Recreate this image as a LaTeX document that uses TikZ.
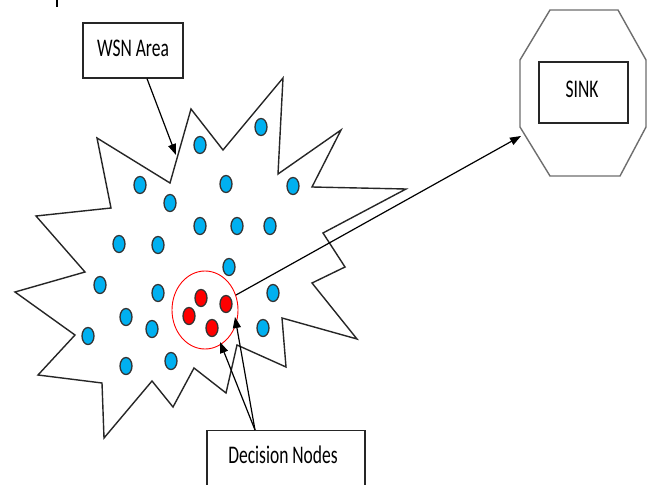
\documentclass[tikz,border=0pt]{standalone}
\usepackage{fontspec}
\setmainfont{Carlito}
\usetikzlibrary{arrows.meta,shapes.geometric}
\definecolor{wsnblue}{RGB}{0,176,240}
\definecolor{edgegray}{RGB}{110,110,110}
\tikzset{
  lbl/.style={font=\fontsize{17.5}{20}\selectfont, inner sep=0pt},
  boxline/.style={draw=black!85, line width=1.3pt},
  starline/.style={draw=black!85, line width=1.4pt, line join=miter},
  bdot/.style={ellipse, draw=black!80, line width=1.3pt, fill=wsnblue, minimum width=12pt, minimum height=17pt, inner sep=0pt},
  rdot/.style={ellipse, draw=black!80, line width=1.3pt, fill=red, minimum width=12pt, minimum height=17pt, inner sep=0pt},
  arr/.style={draw=black, line width=1.2pt, -{Triangle[length=11pt,width=8pt]}},
}
\newcommand{\stretched}[1]{\scalebox{1}[1.45]{#1}}
\begin{document}
\begin{tikzpicture}[x=1pt,y=-1pt]
\useasboundingbox (0,0) rectangle (652,484);
\clip (0,0) rectangle (652,484);
\fill[white] (0,0) rectangle (652,484);
% small tick at top
\draw[line width=2pt] (57,0) -- (57,7);
% star-shaped WSN area
\draw[starline] (97,138) -- (170,183) -- (191,109) -- (223,150) -- (283,78) -- (278,174)
  -- (341,130) -- (312,187) -- (406,189) -- (323,233) -- (345,267) -- (312,283)
  -- (357,339) -- (282,318) -- (286,367) -- (237,345) -- (226,393) -- (194,368)
  -- (173,407) -- (152,381) -- (104,438) -- (102,383) -- (38,375) -- (75,335)
  -- (15,292) -- (85,272) -- (36,216) -- (111,208) -- cycle;
% blue sensor nodes
\foreach \p [count=\i] in {(200,145),(261,127),(140,185),(170,203),(226,184),(293,186),
  (200,226),(237,226),(270,226),(119,244),(158,245),(229,267),(100,285),(158,293),
  (273,293),(126,317),(152,329),(88,336),(263,328),(126,366),(171,361)}
  \node[bdot] (b\i) at \p {};
% decision cluster
\node[ellipse, draw=red, line width=0.9pt, minimum width=66pt, minimum height=78pt, inner sep=0pt] (cl) at (205,310) {};
\node[rdot] (r1) at (201,298) {};
\node[rdot] (r2) at (226,304) {};
\node[rdot] (r3) at (189,316) {};
\node[rdot] (r4) at (212,328) {};
% WSN Area label
\node[boxline, minimum width=100pt, minimum height=55pt, inner sep=0pt] (wsn) at (133,50.5) {};
\node[lbl] (wsnt) at (133,48) {\stretched{WSN Area}};
\coordinate (wsntip) at (176,155);
\draw[arr] ([xshift=14pt]wsn.south) -- (wsntip);
% SINK
\draw[draw=edgegray, line width=1.4pt] (550,10) -- (618,10) -- (646,60) -- (646,127)
  -- (620,176) -- (550,176) -- (520,127) -- (520,60) -- cycle;
\coordinate (sinkin) at (521,136);
\node[boxline, minimum width=89pt, minimum height=61pt, inner sep=0pt] (sink) at (583.5,92.5) {};
\node[lbl] (sinkt) at (582,89) {\stretched{SINK}};
\coordinate (clout) at (236,295);
\draw[arr] (clout) -- (sinkin);
% Decision Nodes label
\node[boxline, minimum width=158pt, minimum height=90pt, inner sep=0pt, anchor=north] (dn) at (286,430) {};
\node[lbl] (dnt) at (283,455) {\stretched{Decision Nodes}};
\coordinate (dntop) at (255,430);
\coordinate (tipa) at (235,317);
\coordinate (tipb) at (220,342);
\draw[arr] (dntop) -- (tipa);
\draw[arr] (dntop) -- (tipb);
\end{tikzpicture}
\end{document}
